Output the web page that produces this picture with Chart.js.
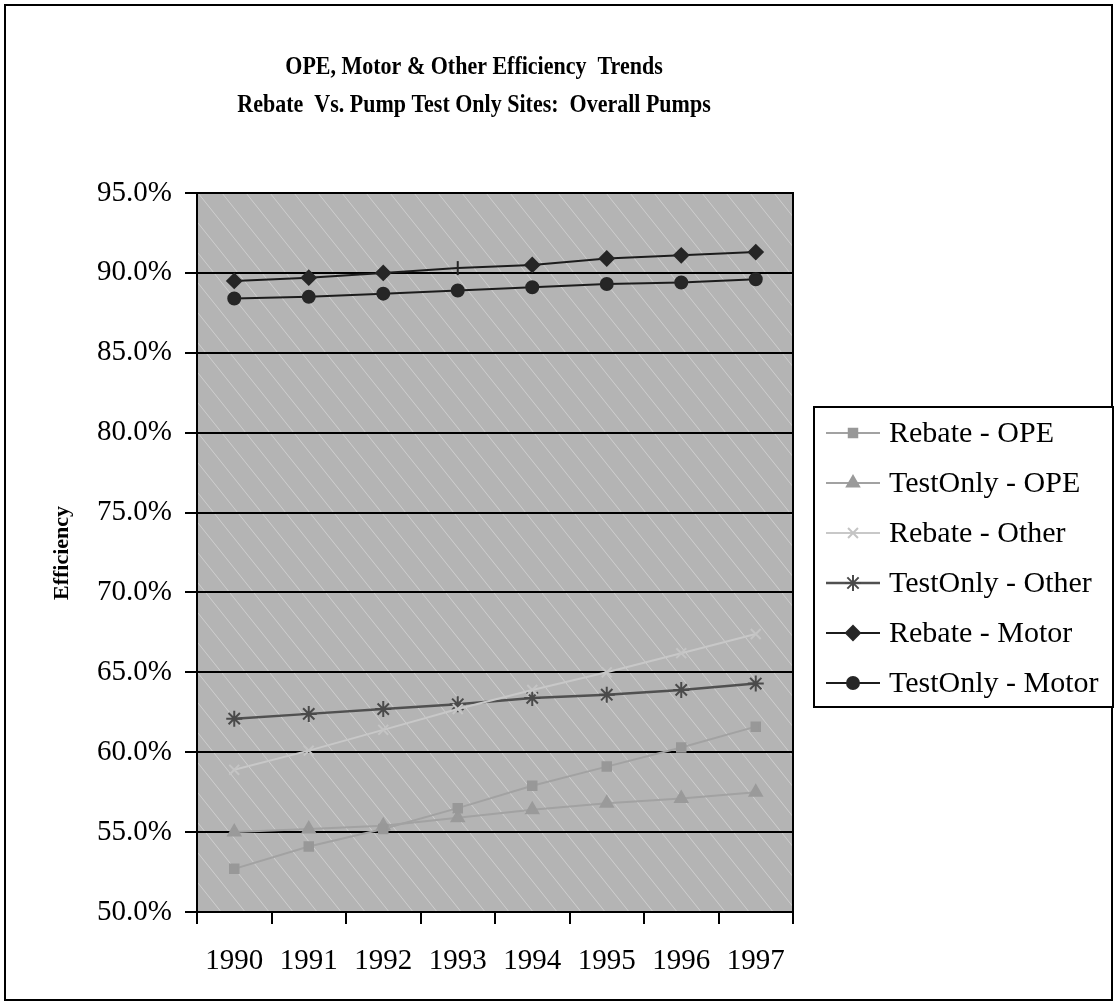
<!DOCTYPE html>
<html>
<head>
<meta charset="utf-8">
<script src="https://cdn.jsdelivr.net/npm/chart.js@4.4.1/dist/chart.umd.min.js"></script>
<style>
  html, body { margin: 0; padding: 0; background: #fff; }
  #wrap { position: relative; width: 1117px; height: 1004px; }
</style>
</head>
<body>
<div id="wrap"><canvas id="chart" width="1117" height="1004"></canvas></div>
<script>
const years = ['1990', '1991', '1992', '1993', '1994', '1995', '1996', '1997'];

// efficiency in percent
const rebateOpe = [52.7, 54.1, 55.2, 56.5, 57.9, 59.1, 60.3, 61.6];
const testOnlyOpe = [55.0, 55.2, 55.4, 55.9, 56.4, 56.8, 57.1, 57.5];
const rebateOther = [58.9, 60.1, 61.4, 62.7, 63.9, 65.0, 66.2, 67.4];
const testOnlyOther = [62.1, 62.4, 62.7, 63.0, 63.4, 63.6, 63.9, 64.3];
const rebateMotor = [89.5, 89.7, 90.0, 90.3, 90.5, 90.9, 91.1, 91.3];
const testOnlyMotor = [88.4, 88.5, 88.7, 88.9, 89.1, 89.3, 89.4, 89.6];

const titleLines = ['OPE, Motor & Other Efficiency  Trends', 'Rebate  Vs. Pump Test Only Sites:  Overall Pumps'];
const yTitle = 'Efficiency';

const serif = "'Liberation Serif', 'Times New Roman', serif";

// plot background, grey with light diagonal streaks
const backdrop = {
  id: 'backdrop',
  beforeDraw(chart) {
    const { ctx, chartArea: a } = chart;
    ctx.save();
    ctx.fillStyle = '#b4b4b4';
    ctx.fillRect(a.left, a.top, a.width, a.height);
    ctx.beginPath();
    ctx.rect(a.left, a.top, a.width, a.height);
    ctx.clip();
    ctx.strokeStyle = 'rgba(225,225,225,0.6)';
    ctx.lineWidth = 1;
    const h = a.height;
    for (let k = -h; k < a.width; k += 24) {
      ctx.beginPath();
      ctx.moveTo(a.left + k, a.top);
      ctx.lineTo(a.left + k + h * 0.8, a.bottom);
      ctx.stroke();
    }
    ctx.restore();
  }
};

const decorations = {
  id: 'decorations',
  afterDraw(chart) {
    const { ctx, chartArea: a } = chart;
    ctx.save();
    // plot frame
    ctx.strokeStyle = '#000';
    ctx.lineWidth = 2;
    ctx.strokeRect(a.left, a.top, a.width, a.height);
    // outer frame
    ctx.strokeRect(5, 5, 1107, 995);

    // titles, a narrow bold serif like the original
    ctx.fillStyle = '#000';
    ctx.textAlign = 'center';
    ctx.textBaseline = 'middle';
    ctx.font = 'bold 25px ' + serif;
    [[titleLines[0], 68], [titleLines[1], 106]].forEach(([t, y]) => {
      ctx.save();
      ctx.translate(474, y);
      ctx.scale(0.88, 1);
      ctx.fillText(t, 0, 0);
      ctx.restore();
    });

    ctx.font = 'bold 22px ' + serif;
    ctx.save();
    ctx.translate(62, 553);
    ctx.rotate(-Math.PI / 2);
    ctx.fillText(yTitle, 0, 0);
    ctx.restore();

    // legend
    const bx = 814, by = 407, bw = 299, bh = 300;
    ctx.fillStyle = '#fff';
    ctx.fillRect(bx, by, bw, bh);
    ctx.strokeRect(bx, by, bw, bh);
    ctx.font = '30px ' + serif;
    ctx.textAlign = 'left';
    chart.data.datasets.forEach((ds, i) => {
      const y = by + 26 + i * 50;
      ctx.strokeStyle = ds.borderColor;
      ctx.lineWidth = ds.borderWidth;
      ctx.beginPath();
      ctx.moveTo(826, y);
      ctx.lineTo(880, y);
      ctx.stroke();
      ctx.fillStyle = ds.pointBackgroundColor;
      ctx.strokeStyle = ds.pointBorderColor;
      ctx.lineWidth = ds.pointBorderWidth;
      Chart.helpers.drawPoint(ctx, {
        pointStyle: ds.legendStyle,
        radius: ds.pointRadius,
        rotation: 0,
        borderWidth: ds.pointBorderWidth
      }, 853, y);
      ctx.fillStyle = '#000';
      ctx.fillText(ds.label, 889, y + 1);
    });
    ctx.restore();
  }
};

function series(label, data, color, style, radius, width, pointColor) {
  return {
    label: label,
    data: data,
    borderColor: color,
    borderWidth: width,
    pointStyle: style,
    legendStyle: style,
    pointRadius: radius,
    pointHoverRadius: radius,
    pointBackgroundColor: pointColor,
    pointBorderColor: pointColor,
    pointBorderWidth: 2,
    tension: 0,
    fill: false
  };
}

const motorRebate = series('Rebate - Motor', rebateMotor, '#1c1c1c', 'rectRot', 7, 2, '#262626');
// 1993 point shows as a short vertical tick in the original
motorRebate.pointStyle = rebateMotor.map((v, i) => i === 3 ? 'line' : 'rectRot');
motorRebate.pointRotation = rebateMotor.map((v, i) => i === 3 ? 90 : 0);

const ctx = document.getElementById('chart').getContext('2d');
const chart = new Chart(ctx, {
  type: 'line',
  data: {
    labels: years,
    datasets: [
      series('Rebate - OPE', rebateOpe, '#a2a2a2', 'rect', 6, 2, '#989898'),
      series('TestOnly - OPE', testOnlyOpe, '#a2a2a2', 'triangle', 7, 2, '#9a9a9a'),
      series('Rebate - Other', rebateOther, '#c8c8c8', 'crossRot', 7, 2, '#c4c4c4'),
      series('TestOnly - Other', testOnlyOther, '#505050', 'star', 8, 2.5, '#4a4a4a'),
      motorRebate,
      series('TestOnly - Motor', testOnlyMotor, '#1c1c1c', 'circle', 6, 2, '#262626')
    ]
  },
  options: {
    responsive: false,
    animation: false,
    layout: { padding: { top: 193, right: 324, left: 0, bottom: 0 } },
    plugins: {
      legend: { display: false },
      title: { display: false },
      tooltip: { enabled: false }
    },
    scales: {
      x: {
        offset: true,
        afterFit(s) { s.height = 92; },
        grid: { offset: true, drawOnChartArea: false, drawTicks: true, tickLength: 12, color: '#000', lineWidth: 2 },
        border: { display: true, color: '#000', width: 2 },
        ticks: { color: '#000', font: { family: serif, size: 29 }, padding: 20, maxRotation: 0 }
      },
      y: {
        min: 50,
        max: 95,
        afterFit(s) { s.width = 197; },
        grid: { color: '#000', lineWidth: 2, tickLength: 12, tickColor: '#000' },
        border: { display: true, color: '#000', width: 2 },
        ticks: {
          stepSize: 5,
          color: '#000',
          padding: 13,
          font: { family: serif, size: 29 },
          callback: v => v.toFixed(1) + '%'
        }
      }
    }
  },
  plugins: [backdrop, decorations]
});
</script>
</body>
</html>
